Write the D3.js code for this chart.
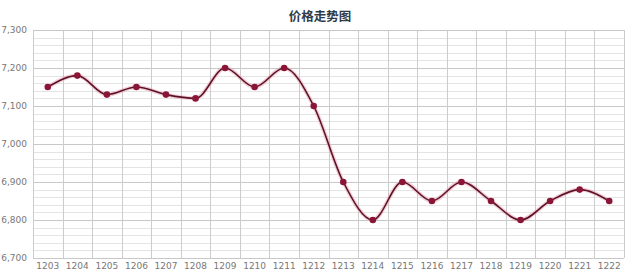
<!DOCTYPE html>
<html>
<head>
<meta charset="utf-8">
<script src="https://cdn.jsdelivr.net/npm/d3@7"></script>
<style>
  body { margin: 0; background: #fff; }
  svg { display: block; }
</style>
</head>
<body>
<div id="chart-area"></div>
<script>
// data
var months = ['1203','1204','1205','1206','1207','1208','1209','1210','1211','1212',
              '1213','1214','1215','1216','1217','1218','1219','1220','1221','1222'];
var prices = [7150,7180,7130,7150,7130,7120,7200,7150,7200,7100,
              6900,6800,6900,6850,6900,6850,6800,6850,6880,6850];
var yTicks = [6700,6800,6900,7000,7100,7200,7300];
var title = '价格走势图';

var W = 640, H = 279;
var margin = {top: 30, right: 16, bottom: 21, left: 33};
var width = W - margin.left - margin.right;
var height = H - margin.top - margin.bottom;

var svg = d3.select('#chart-area').append('svg')
    .attr('width', W)
    .attr('height', H);

svg.append('text')
    .attr('x', 320)
    .attr('y', 21)
    .attr('text-anchor', 'middle')
    .attr('font-family', '"Noto Sans CJK SC", sans-serif')
    .attr('font-size', 12.5)
    .attr('font-weight', 'bold')
    .attr('fill', '#2e3b4a')
    .text(title);

var g = svg.append('g')
    .attr('transform', 'translate(' + margin.left + ',' + margin.top + ')');

var x = d3.scaleBand()
    .domain(months)
    .range([0, width]);

var y = d3.scaleLinear()
    .domain([6700, 7300])
    .range([height, 0]);

// minor grid (every 20)
g.append('g')
    .selectAll('line')
    .data(d3.range(6700, 7301, 20))
    .enter().append('line')
        .attr('x1', 0).attr('x2', width)
        .attr('y1', function(d){ return Math.round(y(d)) + 0.5; })
        .attr('y2', function(d){ return Math.round(y(d)) + 0.5; })
        .attr('stroke', '#e4e4e4');

// major grid
g.append('g')
    .selectAll('line')
    .data(yTicks)
    .enter().append('line')
        .attr('x1', 0).attr('x2', width)
        .attr('y1', function(d){ return Math.round(y(d)) + 0.5; })
        .attr('y2', function(d){ return Math.round(y(d)) + 0.5; })
        .attr('stroke', '#c8c8c8');

// vertical grid at band edges
var edges = months.map(function(d){ return x(d); }).concat([width]);
g.append('g')
    .selectAll('line')
    .data(edges)
    .enter().append('line')
        .attr('x1', function(d){ return Math.round(d) + 0.5; })
        .attr('x2', function(d){ return Math.round(d) + 0.5; })
        .attr('y1', 0).attr('y2', height)
        .attr('stroke', '#cccccc');

// y axis labels
var axisY = d3.axisLeft(y)
    .tickValues(yTicks)
    .tickSize(0)
    .tickPadding(6)
    .tickFormat(d3.format(','));
g.append('g')
    .call(axisY)
    .call(function(s){ s.select('.domain').remove(); })
    .selectAll('text')
        .attr('font-family', '"DejaVu Sans", sans-serif')
        .attr('font-size', 9)
        .attr('fill', '#777');

// x axis labels
var axisX = d3.axisBottom(x).tickSize(0).tickPadding(5);
g.append('g')
    .attr('transform', 'translate(0,' + height + ')')
    .call(axisX)
    .call(function(s){ s.select('.domain').remove(); })
    .selectAll('text')
        .attr('font-family', '"DejaVu Sans", sans-serif')
        .attr('font-size', 9)
        .attr('fill', '#777');

var line = d3.line()
    .x(function(d, i){ return x(months[i]) + x.bandwidth() / 2; })
    .y(function(d){ return y(d); })
    .curve(d3.curveMonotoneX);

// soft halo
g.append('path')
    .datum(prices)
    .attr('d', line)
    .attr('fill', 'none')
    .attr('stroke', '#e8a0b0')
    .attr('stroke-opacity', 0.5)
    .attr('stroke-width', 4);

g.append('path')
    .datum(prices)
    .attr('d', line)
    .attr('fill', 'none')
    .attr('stroke', '#5e1228')
    .attr('stroke-width', 1.6);

g.selectAll('circle')
    .data(prices)
    .enter().append('circle')
        .attr('cx', function(d, i){ return x(months[i]) + x.bandwidth() / 2; })
        .attr('cy', function(d){ return y(d); })
        .attr('r', 3.3)
        .attr('fill', '#8a1537');
</script>
</body>
</html>
